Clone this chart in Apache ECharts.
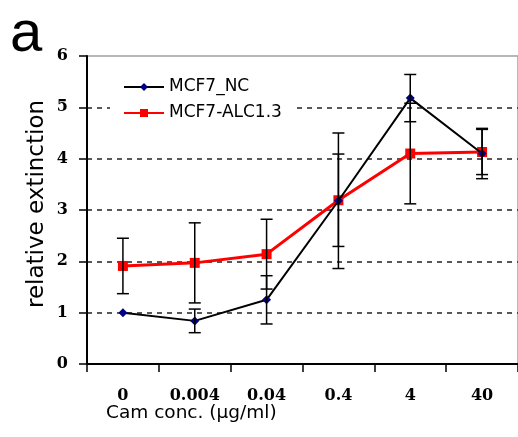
<!DOCTYPE html>
<html>
<head>
<meta charset="utf-8">
<script src="https://cdn.jsdelivr.net/npm/echarts@6/dist/echarts.min.js"></script>
<style>html,body{margin:0;padding:0;background:#fff;}#c{width:518px;height:437px;}</style>
</head>
<body>
<div id="c"></div>
<script>
const categories = ['0', '0.004', '0.04', '0.4', '4', '40'];
const ncMean = [1.0, 0.84, 1.25, 3.18, 5.18, 4.10];
const ncErr = [0.0, 0.23, 0.47, 1.32, 0.46, 0.49];
const alcMean = [1.91, 1.97, 2.14, 3.19, 4.10, 4.13];
const alcErr = [0.54, 0.78, 0.68, 0.90, 0.98, 0.44];
const yTicks = [0, 1, 2, 3, 4, 5, 6];
const seriesNames = ['MCF7_NC', 'MCF7-ALC1.3'];
const xTitle = 'Cam conc. (\u00b5g/ml)';
const yTitle = 'relative extinction';
const panelLabel = 'a';

function errData(mean, err) {
  return mean.map((m, i) => [i, m - err[i], m + err[i]]);
}

const errBars = errData(ncMean, ncErr).concat(errData(alcMean, alcErr)).filter(d => d[2] - d[1] > 0.001);

const chart = echarts.init(document.getElementById('c'), null, {renderer: 'canvas'});
chart.setOption({
  animation: false,
  backgroundColor: '#fff',
  grid: {left: 87, right: 0, top: 56, bottom: 73, show: true, borderColor: '#a0a0a0', borderWidth: 1.5, backgroundColor: 'transparent', containLabel: false, outerBoundsMode: 'none'},
  legend: {
    data: seriesNames,
    orient: 'vertical',
    left: 110, top: 70,
    padding: [8, 14, 8, 13],
    backgroundColor: '#fff',
    itemWidth: 40, itemHeight: 10, itemGap: 8,
    textStyle: {fontFamily: 'DejaVu Sans', fontSize: 17, color: '#000', lineHeight: 18}
  },
  xAxis: {
    type: 'category', data: categories, boundaryGap: true,
    axisLine: {lineStyle: {color: '#000', width: 2}},
    axisTick: {show: true, length: 8, lineStyle: {color: '#000', width: 1.5}},
    axisLabel: {fontFamily: 'DejaVu Serif', fontWeight: 'bold', fontSize: 16, color: '#000', margin: 24},
    splitLine: {show: false}
  },
  yAxis: {
    type: 'value', min: yTicks[0], max: yTicks[yTicks.length - 1], interval: 1,
    axisLine: {show: true, lineStyle: {color: '#000', width: 2}},
    axisTick: {show: true, length: 8, lineStyle: {color: '#000', width: 1.5}},
    axisLabel: {fontFamily: 'DejaVu Serif', fontWeight: 'bold', fontSize: 16, color: '#000', margin: 19},
    splitLine: {show: true, lineStyle: {type: [5, 5], width: 1.5, color: ['rgba(0,0,0,0)', '#222', '#222', '#222', '#222', '#222', 'rgba(0,0,0,0)']}}
  },
  graphic: [
    {type: 'text', left: 10, top: 6, style: {text: panelLabel, font: '58px "Liberation Sans"', fill: '#000'}},
    {type: 'text', left: 106, top: 404, style: {text: xTitle, font: '18.5px "DejaVu Sans"', fill: '#000'}},
    {type: 'text', x: 37, y: 204, rotation: Math.PI / 2, style: {text: yTitle, font: '23px "DejaVu Sans"', fill: '#000', align: 'center', verticalAlign: 'middle'}}
  ],
  series: [
    {
      name: seriesNames[0], type: 'line', data: ncMean,
      symbol: 'diamond', symbolSize: 9,
      lineStyle: {color: '#000', width: 2},
      itemStyle: {color: '#000080'},
      z: 4
    },
    {
      name: seriesNames[1], type: 'line', data: alcMean,
      symbol: 'rect', symbolSize: 10,
      lineStyle: {color: '#ff0000', width: 3},
      itemStyle: {color: '#ff0000'},
      z: 3
    },
    {
      name: 'err', type: 'custom', data: errBars,
      encode: {x: 0, y: [1, 2]},
      z: 5, silent: true,
      renderItem: function (params, api) {
        const x = api.value(0);
        const lo = api.coord([x, api.value(1)]);
        const hi = api.coord([x, api.value(2)]);
        const w = 6;
        const st = {stroke: '#000', lineWidth: 1.5};
        return {
          type: 'group',
          children: [
            {type: 'line', shape: {x1: lo[0], y1: lo[1], x2: hi[0], y2: hi[1]}, style: st},
            {type: 'line', shape: {x1: lo[0] - w, y1: lo[1], x2: lo[0] + w, y2: lo[1]}, style: st},
            {type: 'line', shape: {x1: hi[0] - w, y1: hi[1], x2: hi[0] + w, y2: hi[1]}, style: st}
          ]
        };
      }
    }
  ]
});
</script>
</body>
</html>
